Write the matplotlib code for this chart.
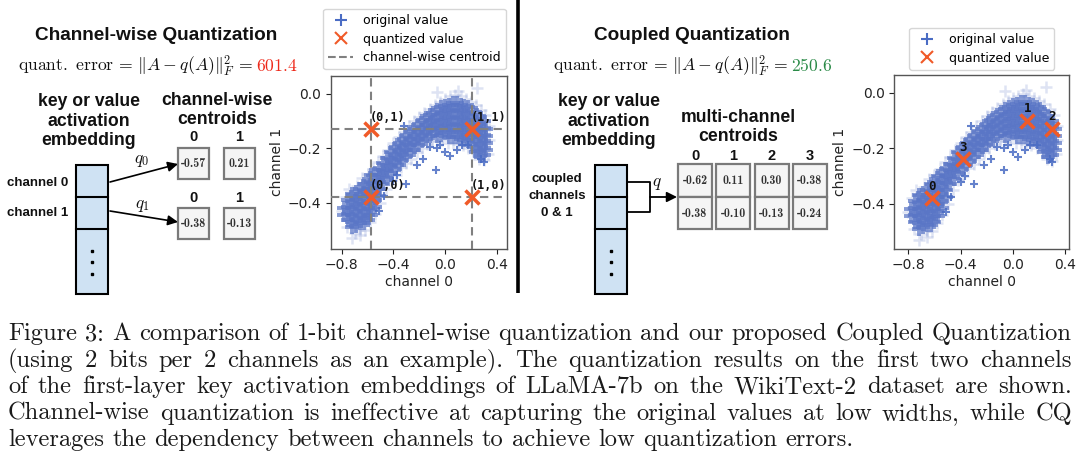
import matplotlib
matplotlib.use("Agg")
import matplotlib.pyplot as plt
from matplotlib.patches import Rectangle, FancyArrowPatch
from matplotlib.lines import Line2D

plt.rcParams['mathtext.fontset'] = 'cm'

# ---------------- data ----------------
cw_centroids_ch0 = [-0.57, 0.21]          # channel-wise centroids, channel 0
cw_centroids_ch1 = [-0.38, -0.13]         # channel-wise centroids, channel 1
cq_centroids_ch0 = [-0.62, 0.11, 0.30, -0.38]   # coupled centroids (channel 0)
cq_centroids_ch1 = [-0.38, -0.10, -0.13, -0.24] # coupled centroids (channel 1)
cq_labels = ['0', '1', '2', '3']
error_cw = '601.4'
error_cq = '250.6'

x_ticks = [-0.8, -0.4, 0.0, 0.4]
y_ticks = [0.0, -0.2, -0.4]

# dense core of the activation cloud: (channel 0 value, [channel 1 values])
cloud_core = [
    (-0.78, [-0.42, -0.445]),
    (-0.75, [-0.39, -0.415, -0.44, -0.465]),
    (-0.72, [-0.37, -0.395, -0.42, -0.445, -0.47, -0.49]),
    (-0.69, [-0.36, -0.385, -0.41, -0.435, -0.46, -0.485]),
    (-0.66, [-0.35, -0.375, -0.40, -0.425, -0.45, -0.475]),
    (-0.63, [-0.33, -0.355, -0.38, -0.405, -0.43, -0.455, -0.475]),
    (-0.60, [-0.32, -0.345, -0.37, -0.395, -0.42, -0.445, -0.465]),
    (-0.57, [-0.30, -0.325, -0.35, -0.375, -0.40, -0.425, -0.445]),
    (-0.54, [-0.29, -0.315, -0.34, -0.365, -0.39, -0.415]),
    (-0.51, [-0.275, -0.30, -0.325, -0.35, -0.375]),
    (-0.48, [-0.255, -0.28, -0.305, -0.33]),
    (-0.45, [-0.235, -0.26, -0.285, -0.31]),
    (-0.42, [-0.215, -0.24, -0.265, -0.29]),
    (-0.39, [-0.20, -0.225, -0.25, -0.275]),
    (-0.36, [-0.185, -0.21, -0.235, -0.26]),
    (-0.33, [-0.17, -0.195, -0.22, -0.245]),
    (-0.30, [-0.155, -0.18, -0.205, -0.23]),
    (-0.27, [-0.14, -0.165, -0.19, -0.215]),
    (-0.24, [-0.13, -0.155, -0.18, -0.205]),
    (-0.21, [-0.115, -0.14, -0.165, -0.19]),
    (-0.18, [-0.10, -0.125, -0.15, -0.175]),
    (-0.15, [-0.09, -0.115, -0.14, -0.165]),
    (-0.12, [-0.08, -0.105, -0.13, -0.155]),
    (-0.09, [-0.07, -0.095, -0.12, -0.145]),
    (-0.06, [-0.06, -0.085, -0.11, -0.135, -0.155]),
    (-0.03, [-0.05, -0.075, -0.10, -0.125, -0.15]),
    (0.00, [-0.045, -0.07, -0.095, -0.12, -0.145]),
    (0.03, [-0.04, -0.065, -0.09, -0.115, -0.14, -0.16]),
    (0.06, [-0.035, -0.06, -0.085, -0.11, -0.135, -0.16]),
    (0.09, [-0.035, -0.06, -0.085, -0.11, -0.135, -0.16]),
    (0.12, [-0.04, -0.065, -0.09, -0.115, -0.14, -0.165]),
    (0.15, [-0.045, -0.07, -0.095, -0.12, -0.145, -0.17]),
    (0.18, [-0.05, -0.075, -0.10, -0.125, -0.15, -0.175]),
    (0.21, [-0.06, -0.085, -0.11, -0.135, -0.16, -0.185]),
    (0.24, [-0.07, -0.095, -0.12, -0.145, -0.17, -0.195, -0.215]),
    (0.27, [-0.085, -0.11, -0.135, -0.16, -0.185, -0.21, -0.23]),
    (0.30, [-0.10, -0.125, -0.15, -0.175, -0.20, -0.225]),
    (0.32, [-0.13, -0.155, -0.18, -0.205]),
]

# faint fringe of the cloud
fringe_x = [-0.80, -0.77, -0.74, -0.76, -0.70, -0.66, -0.62, -0.68, -0.64, -0.60,
            -0.56, -0.52, -0.48, -0.44, -0.40, -0.36, -0.32, -0.28, -0.24, -0.20,
            -0.16, -0.12, -0.08, -0.04, 0.00, 0.04, 0.08, 0.12, 0.16, 0.20,
            0.24, 0.28, 0.31, 0.34, 0.34, 0.33, 0.30, -0.06, 0.10, 0.25,
            -0.50, -0.46, -0.42, -0.38, -0.34, -0.30, -0.26, -0.22, -0.18, -0.14,
            -0.10, -0.06, -0.02, 0.02, 0.06, 0.10, 0.14, 0.18, 0.22, 0.26,
            -0.54, -0.58, -0.72, -0.66]
fringe_y = [-0.43, -0.38, -0.35, -0.49, -0.51, -0.50, -0.50, -0.34, -0.31, -0.295,
            -0.275, -0.25, -0.23, -0.205, -0.18, -0.16, -0.14, -0.12, -0.10, -0.085,
            -0.07, -0.055, -0.04, -0.03, -0.02, -0.01, -0.005, -0.01, -0.02, -0.03,
            -0.04, -0.06, -0.08, -0.12, -0.17, -0.22, -0.245, 0.005, 0.01, 0.02,
            -0.40, -0.35, -0.315, -0.30, -0.27, -0.255, -0.24, -0.215, -0.20, -0.185,
            -0.175, -0.175, -0.17, -0.18, -0.18, -0.185, -0.19, -0.20, -0.21, -0.24,
            -0.44, -0.47, -0.53, -0.52]

# isolated values below the arch
outlier_x = [-0.32, -0.51, -0.47, -0.40, -0.30, -0.37, -0.22, -0.17, -0.12, -0.07,
             -0.04, 0.00, 0.04, 0.09, 0.13, 0.18, -0.065, 0.30, 0.28]
outlier_y = [-0.12, -0.43, -0.375, -0.32, -0.33, -0.30, -0.26, -0.24, -0.195, -0.28,
             -0.19, -0.215, -0.23, -0.205, -0.19, -0.19, -0.2, -0.25, -0.24]

caption_lines = [
    "Figure 3: A comparison of 1-bit channel-wise quantization and our proposed Coupled Quantization",
    "(using 2 bits per 2 channels as an example).  The quantization results on the first two channels",
    "of the first-layer key activation embeddings of LLaMA-7b on the WikiText-2 dataset are shown.",
    "Channel-wise quantization is ineffective at capturing the original values at low widths, while CQ",
    "leverages the dependency between channels to achieve low quantization errors.",
]

# ---------------- figure ----------------
W, H = 1080, 473
BLUE = '#4a6cc4'
CLOUD = '#5a76c6'
ORANGE = '#f05a28'
GRAY = '#808080'

fig = plt.figure(figsize=(W / 100, H / 100), dpi=100)
bg = fig.add_axes([0, 0, 1, 1])
bg.set_xlim(0, W)
bg.set_ylim(H, 0)
bg.axis('off')
renderer = fig.canvas.get_renderer()


def text_width(s, **kw):
    t = bg.text(0, 0, s, **kw)
    w = t.get_window_extent(renderer).width
    t.remove()
    return w


def fit_size(s, width, **kw):
    return 10 * width / text_width(s, fontsize=10, **kw)


SANS_B = dict(family='Liberation Sans', weight='bold', color='#111111')

# ---- panel titles ----
ts = fit_size("Channel-wise Quantization", 243, **SANS_B)
bg.text(156, 40, "Channel-wise Quantization", ha='center', va='baseline', fontsize=ts, **SANS_B)
bg.text(692, 40, "Coupled Quantization", ha='center', va='baseline', fontsize=ts, **SANS_B)

# ---- error formulas ----
formula = r'$\mathrm{quant.\ error} \,=\, \|A - q(A)\|_F^2 \,=\, $'
fsz = fit_size(formula, 236)
bg.text(253, 71, formula, ha='right', va='baseline', fontsize=fsz, color='#111111')
bg.text(256, 71, r'$%s$' % error_cw, ha='left', va='baseline', fontsize=fsz, color='#ee2a1b')
bg.text(788, 71, formula, ha='right', va='baseline', fontsize=fsz, color='#111111')
bg.text(791, 71, r'$%s$' % error_cq, ha='left', va='baseline', fontsize=fsz, color='#2a8a47')

# ---- "key or value activation embedding" ----
ks = fit_size("key or value", 102, **SANS_B)
for cx in (89, 609):
    for yy, s in zip((101, 121, 140), ("key or value", "activation", "embedding")):
        bg.text(cx, yy, s, ha='center', va='center', fontsize=ks, **SANS_B)

bg.text(217, 100, "channel-wise", ha='center', va='center', fontsize=ks, **SANS_B)
bg.text(217, 119, "centroids", ha='center', va='center', fontsize=ks, **SANS_B)
bg.text(738, 117, "multi-channel", ha='center', va='center', fontsize=ks, **SANS_B)
bg.text(738, 136, "centroids", ha='center', va='center', fontsize=ks, **SANS_B)


def embedding_bar(x0):
    bg.add_patch(Rectangle((x0, 165), 32, 129, fc='#cfe2f3', ec='black', lw=1.5))
    bg.plot([x0, x0 + 32], [197, 197], color='black', lw=1.5)
    bg.plot([x0, x0 + 32], [229, 229], color='black', lw=1.5)
    bg.plot([x0 + 16] * 3, [251, 262, 274], ls='none', marker='s', ms=1.7, color='black')


embedding_bar(76)
embedding_bar(595)

ss = fit_size("channel 0", 61, **SANS_B)
bg.text(7, 183, "channel 0", ha='left', va='center', fontsize=ss, **SANS_B)
bg.text(7, 213, "channel 1", ha='left', va='center', fontsize=ss, **SANS_B)
for yy, s in zip((179, 196, 213), ("coupled", "channels", "0 & 1")):
    bg.text(557, yy, s, ha='center', va='center', fontsize=ss, **SANS_B)

CELL_FONT = dict(family='cmb10', color='#333333')


def cell(x0, y0, w, h, val):
    bg.add_patch(Rectangle((x0, y0), w, h, fc='#f5f5f5', ec='#7a7a7a', lw=1.6))
    bg.text(x0 + w / 2, y0 + h / 2 + 0.5, '%.2f' % val, ha='center', va='center',
            fontsize=8.6, **CELL_FONT)


# channel-wise centroid cells
for row, (vals, ytop, ylab) in enumerate(((cw_centroids_ch0, 148, 137), (cw_centroids_ch1, 208, 198))):
    for j, v in enumerate(vals):
        x0 = 178 + j * 46
        cell(x0, ytop, 31, 31, v)
        bg.text(x0 + 15.5, ylab, str(j), ha='center', va='center', fontsize=10.5, **SANS_B)

# arrows q0, q1
for (p0, p1) in (((110, 182), (178, 164)), ((110, 211), (178, 222))):
    bg.add_patch(FancyArrowPatch(p0, p1, arrowstyle='-|>', mutation_scale=15, lw=1.2,
                                 color='black', shrinkA=0, shrinkB=0))
bg.text(142, 160, r'$q_0$', ha='center', va='center', fontsize=12.5, color='#111111')
bg.text(142, 205, r'$q_1$', ha='center', va='center', fontsize=12.5, color='#111111')

# coupled centroid cells
for j in range(4):
    x0 = 678 + j * 38.3
    cell(x0, 164, 34, 33, cq_centroids_ch0[j])
    cell(x0, 197, 34, 32, cq_centroids_ch1[j])
    bg.text(x0 + 17, 156, str(j), ha='center', va='center', fontsize=10.5, **SANS_B)

bg.plot([627, 650, 650, 627], [182, 182, 212, 212], color='black', lw=1.3)
bg.add_patch(FancyArrowPatch((650, 197), (677, 197), arrowstyle='-|>', mutation_scale=15, lw=1.3,
                             color='black', shrinkA=0, shrinkB=0))
bg.text(657, 183, r'$q$', ha='center', va='center', fontsize=12.5, color='#111111')

# separator
bg.plot([517.5, 517.5], [0, 293], color='black', lw=2.6, solid_capstyle='butt')

# ---------------- scatter plots ----------------
core_x = [cx for cx, ys in cloud_core for _ in ys]
core_y = [y for _, ys in cloud_core for y in ys]


def scatter_panel(rect, xlim, ylim):
    ax = fig.add_axes(rect)
    ax.plot(fringe_x, fringe_y, ls='none', marker='+', ms=8.5, mew=1.8, color=CLOUD, alpha=0.2)
    ax.plot(core_x, core_y, ls='none', marker='+', ms=9.5, mew=2.8, color=CLOUD, alpha=0.72)
    ax.plot(outlier_x, outlier_y, ls='none', marker='+', ms=5.5, mew=1.5, color=BLUE, alpha=0.85)
    ax.set_xlim(*xlim)
    ax.set_ylim(*ylim)
    ax.set_xticks(x_ticks)
    ax.set_yticks(y_ticks)
    ax.tick_params(labelsize=10, length=3.5, width=0.8, colors='#222222')
    for sp in ax.spines.values():
        sp.set_color('#555555')
        sp.set_linewidth(1.0)
    ax.set_xlabel('channel 0', fontsize=10, color='#222222', labelpad=2)
    ax.set_ylabel('channel 1', fontsize=10, color='#222222', labelpad=3)
    return ax


axL = scatter_panel([331 / W, 1 - 248.7 / H, 175.7 / W, 172.7 / H], (-0.883, 0.477), (-0.569, 0.065))
for v in cw_centroids_ch0:
    axL.axvline(v, color=GRAY, lw=1.5, ls=(0, (4, 2.5)), zorder=3)
for v in cw_centroids_ch1:
    axL.axhline(v, color=GRAY, lw=1.5, ls=(0, (4, 2.5)), zorder=3)
qx = [x for y in cw_centroids_ch1 for x in cw_centroids_ch0]
qy = [y for y in cw_centroids_ch1 for x in cw_centroids_ch0]
axL.plot(qx, qy, ls='none', marker='x', ms=10, mew=2.5, color=ORANGE, zorder=4)
for j, y in enumerate(cw_centroids_ch1):
    for i, x in enumerate(cw_centroids_ch0):
        axL.annotate('(%d,%d)' % (i, j), (x, y), xytext=(-1, 4), textcoords='offset points',
                     ha='left', va='bottom', family='DejaVu Sans Mono', weight='bold',
                     fontsize=8.5, color='#111111', zorder=5)

axR = scatter_panel([894.3 / W, 1 - 248.7 / H, 174.7 / W, 173.7 / H], (-0.907, 0.428), (-0.562, 0.064))
axR.plot(cq_centroids_ch0, cq_centroids_ch1, ls='none', marker='x', ms=10.5, mew=2.5, color=ORANGE, zorder=4)
for lab, x, y in zip(cq_labels, cq_centroids_ch0, cq_centroids_ch1):
    axR.annotate(lab, (x, y), xytext=(0, 4), textcoords='offset points', ha='center', va='bottom',
                 family='DejaVu Sans Mono', weight='bold', fontsize=9, color='#111111', zorder=5)

h_orig = Line2D([], [], ls='none', marker='+', ms=8, mew=1.5, color=BLUE)
h_quant = Line2D([], [], ls='none', marker='x', ms=8, mew=1.5, color=ORANGE)
h_cent = Line2D([], [], ls='--', lw=1.5, color=GRAY)
axL.legend([h_orig, h_quant, h_cent], ['original value', 'quantized value', 'channel-wise centroid'],
           loc='upper left', bbox_to_anchor=(323 / W, 1 - 9 / H), bbox_transform=fig.transFigure,
           borderaxespad=0, fontsize=9, handlelength=2.0, labelspacing=0.45)
axR.legend([h_orig, h_quant], ['original value', 'quantized value'],
           loc='upper left', bbox_to_anchor=(909 / W, 1 - 28 / H), bbox_transform=fig.transFigure,
           borderaxespad=0, fontsize=9, handlelength=2.0, labelspacing=0.45)

# ---------------- caption (justified) ----------------
CAP = dict(family='cmr10', color='#1a1a1a')
cap_fs = fit_size(caption_lines[-1], 846, **CAP)
space_w = text_width('a a', fontsize=cap_fs, **CAP) - text_width('aa', fontsize=cap_fs, **CAP)
left, right = 8, 1072
for k, line in enumerate(caption_lines):
    yb = 340 + k * 26.6
    words = line.split()
    widths = [text_width(w_, fontsize=cap_fs, **CAP) for w_ in words]
    if k < len(caption_lines) - 1:
        gap = (right - left - sum(widths)) / (len(words) - 1)
    else:
        gap = space_w
    x = left
    for w_, wd in zip(words, widths):
        bg.text(x, yb, w_, ha='left', va='baseline', fontsize=cap_fs, **CAP)
        x += wd + gap

fig.savefig('out.png', dpi=100)
